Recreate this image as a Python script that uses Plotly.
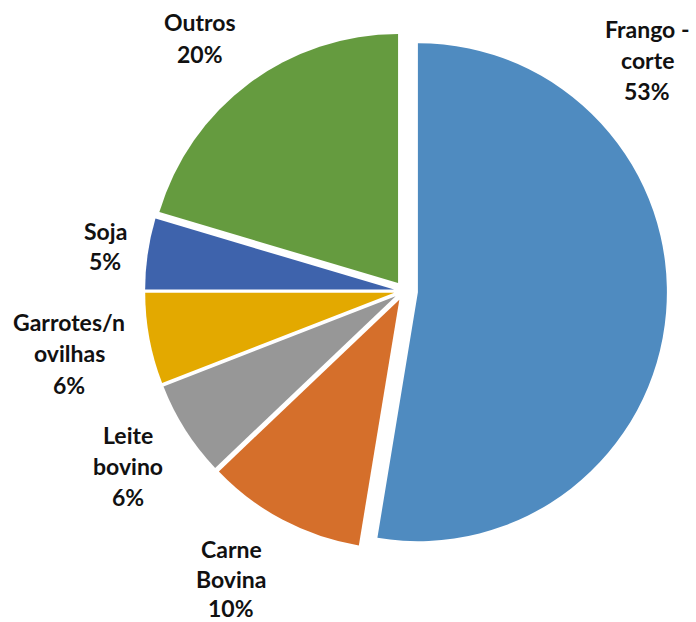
import plotly.graph_objects as go

# Data
categories = ["Frango - corte", "Carne Bovina", "Leite bovino", "Garrotes/novilhas", "Soja", "Outros"]
values = [52.6, 10.3, 6.2, 5.9, 4.6, 20.4]
label_lines = [["Frango -", "corte"], ["Carne", "Bovina"], ["Leite", "bovino"],
               ["Garrotes/n", "ovilhas"], ["Soja"], ["Outros"]]

# Styling
colors = ["#4F8BC0", "#D56F2B", "#979797", "#E3A900", "#3E63AC", "#659B3F"]
pulls = [0.056, 0.04, 0.04, 0.04, 0.04, 0.04]
# label centre x and per-line centre y (pixels)
label_x = [647, 231, 128, 69, 105, 200]
label_y = [[29, 60, 91], [549, 579, 608], [435, 466, 497], [322, 353, 385], [231, 261], [22, 54]]

W, H = 696, 622
cx, cy, r = 404, 291, 249
half = r * (1 + max(pulls))

fig = go.Figure(go.Pie(
    labels=categories,
    values=values,
    sort=False,
    direction="clockwise",
    rotation=0,
    pull=pulls,
    textinfo="none",
    hoverinfo="label+percent",
    marker=dict(colors=colors, line=dict(color="white", width=0)),
    domain=dict(x=[(cx - half) / W, (cx + half) / W],
                y=[1 - (cy + half) / H, 1 - (cy - half) / H]),
    showlegend=False,
))

total = sum(values)
for lines, v, px, pys in zip(label_lines, values, label_x, label_y):
    pct = f"{round(v / total * 100)}%"
    for txt, py in zip(lines + [pct], pys):
        fig.add_annotation(
            x=px / W, y=1 - py / H, xref="paper", yref="paper",
            text=txt,
            showarrow=False, xanchor="center", yanchor="middle", align="center",
            font=dict(family="Lato", size=23, color="#111111", weight="bold"),
        )

fig.update_layout(
    width=W, height=H,
    margin=dict(l=0, r=0, t=0, b=0),
    paper_bgcolor="white", plot_bgcolor="white",
)

fig.write_html("out.html", config={"displayModeBar": False},
               post_script="document.body.style.margin='0';")
